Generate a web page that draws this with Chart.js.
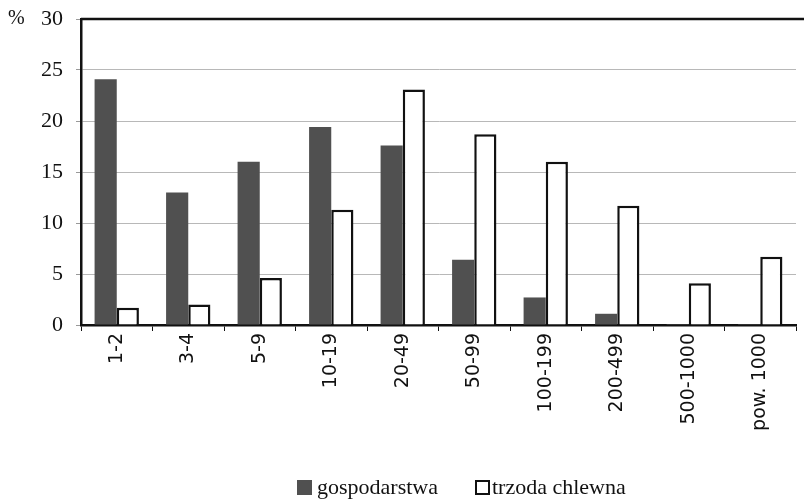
<!DOCTYPE html>
<html lang="pl">
<head>
    <meta charset="UTF-8">
    <title>Gospodarstwa i trzoda chlewna</title>
    <script src="https://cdn.jsdelivr.net/npm/chart.js"></script>
    <style>
        body { margin: 0; background: #fff; }
        #wrap { position: relative; width: 804px; height: 499px; }
        #legend {
            position: absolute; top: 474px; left: 297px;
            font-family: "Liberation Serif", serif; font-size: 22px; color: #111;
            white-space: nowrap;
        }
        #legend span.box {
            display: inline-block; width: 15px; height: 15px; vertical-align: -1px;
            margin-right: 5px; box-sizing: border-box;
        }
    </style>
</head>
<body>
<div id="wrap">
    <canvas id="chart" width="804" height="499"></canvas>
    <div id="legend">
        <span class="box" style="background:#505050"></span>gospodarstwa<span style="display:inline-block;width:37px"></span><span class="box" style="border:2.5px solid #111;background:#fff;margin-right:2px"></span>trzoda chlewna
    </div>
</div>
<script>
// data (%)
const categories = ['1-2', '3-4', '5-9', '10-19', '20-49', '50-99', '100-199', '200-499', '500-1000', 'pow. 1000'];
const gospodarstwa = [24.1, 13.0, 16.0, 19.4, 17.6, 6.4, 2.7, 1.1, 0.1, 0.1];
const trzoda = [1.7, 2.0, 4.6, 11.3, 23.1, 18.7, 16.0, 11.7, 4.1, 6.7];
const yTicks = [0, 5, 10, 15, 20, 25, 30];

// top frame line + "%" label
const extras = {
    id: 'extras',
    afterDraw(chart) {
        const ctx = chart.ctx, a = chart.chartArea;
        ctx.save();
        ctx.strokeStyle = '#111';
        ctx.lineWidth = 2.5;
        ctx.beginPath();
        ctx.moveTo(a.left, a.top);
        ctx.lineTo(chart.width, a.top);
        ctx.stroke();
        ctx.fillStyle = '#111';
        ctx.font = '20px "Liberation Serif"';
        ctx.textBaseline = 'middle';
        ctx.fillText('%', 8, a.top);
        ctx.restore();
    }
};

new Chart(document.getElementById('chart'), {
    type: 'bar',
    data: {
        labels: categories,
        datasets: [{
            label: 'gospodarstwa',
            data: gospodarstwa,
            backgroundColor: '#505050',
            borderWidth: 0,
            barPercentage: 1,
            categoryPercentage: 0.62
        }, {
            label: 'trzoda chlewna',
            data: trzoda,
            backgroundColor: '#ffffff',
            borderColor: '#111',
            borderWidth: 2.5,
            borderSkipped: 'bottom',
            barPercentage: 1,
            categoryPercentage: 0.62
        }]
    },
    plugins: [extras],
    options: {
        responsive: false,
        animation: false,
        layout: { padding: { top: 19, right: 8, left: 0, bottom: 0 } },
        plugins: { legend: { display: false }, tooltip: { enabled: false } },
        scales: {
            x: {
                offset: true,
                grid: { offset: true, drawOnChartArea: false, color: '#111', tickLength: 6, lineWidth: 1 },
                border: { color: '#111', width: 2.5 },
                ticks: {
                    minRotation: 90, maxRotation: 90, padding: 2,
                    color: '#111',
                    font: { family: 'DejaVu Sans', size: 19 }
                },
                afterFit(scale) { scale.height = 174; scale.paddingLeft = 0; scale.paddingRight = 0; }
            },
            y: {
                min: 0, max: 30,
                afterBuildTicks(scale) { scale.ticks = yTicks.map(v => ({ value: v })); },
                grid: { color: '#b8b8b8', lineWidth: 1, tickLength: 5, tickColor: '#999' },
                border: { color: '#111', width: 2.5, dash: [] },
                ticks: {
                    padding: 13, color: '#111',
                    font: { family: 'Liberation Serif', size: 22 }
                },
                afterFit(scale) { scale.width = 81; scale.paddingTop = 0; scale.paddingBottom = 0; }
            }
        }
    }
});
</script>
</body>
</html>
